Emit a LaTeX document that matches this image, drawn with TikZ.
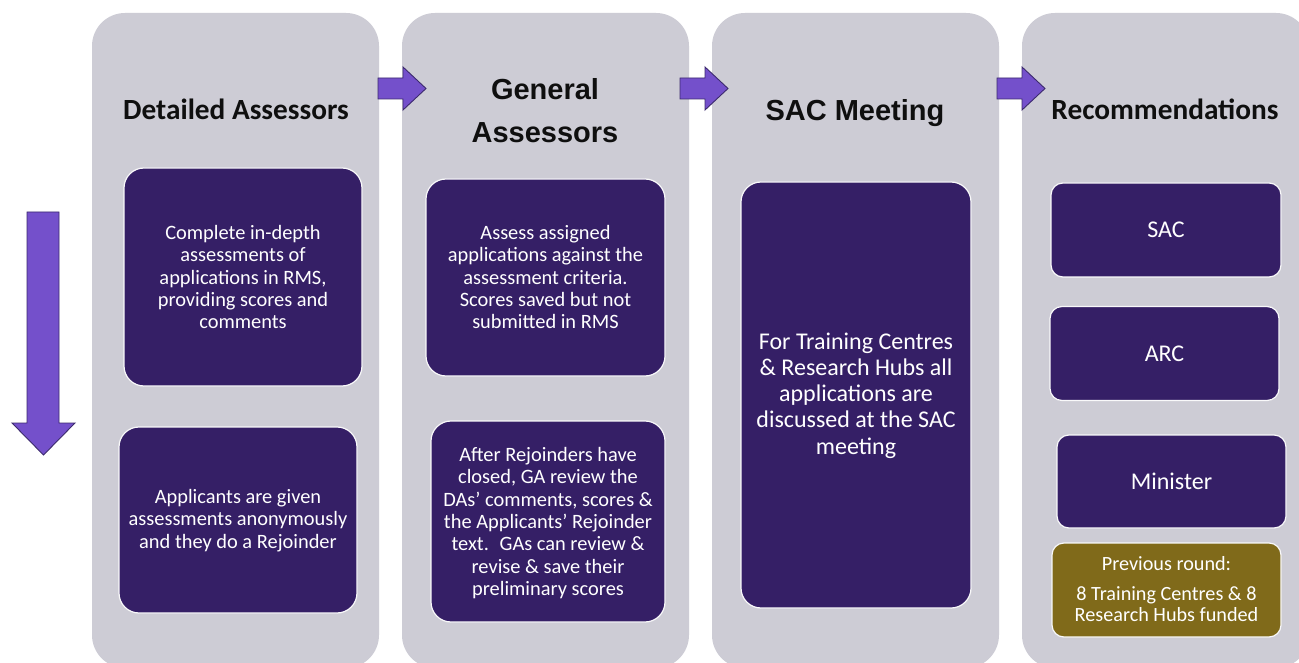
\documentclass[tikz,border=0pt]{standalone}
\usepackage{fontspec}
\setmainfont{Carlito}
\newfontfamily\arialf{Liberation Sans}
\definecolor{colgray}{RGB}{205,204,213}
\definecolor{darkpurple}{RGB}{53,31,102}
\definecolor{arrowpurple}{RGB}{116,80,203}
\definecolor{arrowdark}{RGB}{60,42,110}
\definecolor{olive}{RGB}{128,106,26}
\definecolor{titleblack}{RGB}{15,15,15}
\begin{document}
\begin{tikzpicture}[x=1pt,y=-1pt,
  column/.style={rectangle, fill=colgray, draw=none, rounded corners=33pt, inner sep=0pt},
  inbox/.style={rectangle, fill=darkpurple, draw=white!88!colgray, line width=1.2pt, rounded corners=20pt, inner sep=0pt},
  smallbox/.style={inbox, rounded corners=12pt},
  olivebox/.style={smallbox, fill=olive},
  bodytext/.style={text=white, align=center, inner sep=0pt, font=\fontsize{20.4}{22.3}\selectfont},
  bigtext/.style={text=white, align=center, inner sep=0pt, font=\fontsize{24}{26.3}\selectfont},
  coltitle/.style={text=titleblack, align=center, inner sep=0pt, font=\bfseries\fontsize{29.3}{34}\selectfont},
  arialtitle/.style={text=titleblack, align=center, inner sep=0pt, font=\arialf\bfseries\fontsize{29}{43}\selectfont},
  blockarrow/.style={fill=arrowpurple, draw=arrowdark, line width=0.9pt, line join=miter}
]
\useasboundingbox (0,0) rectangle (1299,663);
\fill[white] (0,0) rectangle (1299,663);

% columns
\node[column, minimum width=287pt, minimum height=655pt] (c1) at (235.5,340.5) {};
\node[column, minimum width=287pt, minimum height=655pt] (c2) at (545.5,340.5) {};
\node[column, minimum width=287pt, minimum height=655pt] (c3) at (855.5,340.5) {};
\node[column, minimum width=287pt, minimum height=655pt] (c4) at (1165.5,340.5) {};

% block arrows between columns
\draw[blockarrow] (378,78) -- (403,78) -- (403,67) -- (426,88.5) -- (403,110) -- (403,99) -- (378,99) -- cycle;
\draw[blockarrow] (680,78) -- (705,78) -- (705,67) -- (728,88.5) -- (705,110) -- (705,99) -- (680,99) -- cycle;
\draw[blockarrow] (997,78) -- (1022,78) -- (1022,67) -- (1045,88.5) -- (1022,110) -- (1022,99) -- (997,99) -- cycle;
% down arrow
\draw[blockarrow] (27,212) -- (59,212) -- (59,423) -- (75,423) -- (43.5,455) -- (12,423) -- (27,423) -- cycle;

% titles
\node[coltitle, anchor=base] (t1) at (236,119.5) {Detailed Assessors};
\node[arialtitle] (t2) at (545,110.5) {General\\Assessors};
\node[arialtitle, anchor=base] (t3) at (855,121) {SAC Meeting};
\node[coltitle, anchor=base] (t4) at (1165,119.5) {Recommendations};

% column 1
\node[inbox, minimum width=238pt, minimum height=218pt] (b11) at (243,277) {};
\node[bodytext] (x11) at (243,277) {Complete in-depth\\assessments of\\applications in RMS,\\providing scores and\\comments};
\node[inbox, minimum width=238pt, minimum height=186pt] (b12) at (238,520) {};
\node[bodytext] (x12) at (238,520.5) {Applicants are given\\assessments anonymously\\and they do a Rejoinder};

% column 2
\node[inbox, minimum width=239pt, minimum height=197pt] (b21) at (545.5,277.5) {};
\node[bodytext] (x21) at (545.5,277) {Assess assigned\\applications against the\\assessment criteria.\\Scores saved but not\\submitted in RMS};
\node[inbox, minimum width=234pt, minimum height=201pt] (b22) at (548,521.5) {};
\node[bodytext] (x22) at (548,523) {After Rejoinders have\\closed, GA review the\\DAs’ comments, scores \&\\the Applicants’ Rejoinder\\text.~ GAs can review \&\\revise \& save their\\preliminary scores};

% column 3
\node[inbox, minimum width=230pt, minimum height=426pt] (b3) at (856,395) {};
\node[bigtext] (x3) at (856,395.5) {For Training Centres\\\& Research Hubs all\\applications are\\discussed at the SAC\\meeting};

% column 4
\node[smallbox, minimum width=230pt, minimum height=94pt] (b41) at (1166,230) {};
\node[bigtext] (x41) at (b41.center) {SAC};
\node[smallbox, minimum width=229pt, minimum height=94pt] (b42) at (1164.5,353.5) {};
\node[bigtext] (x42) at (b42.center) {ARC};
\node[smallbox, minimum width=229pt, minimum height=93pt] (b43) at (1171.5,481.5) {};
\node[bigtext] (x43) at (b43.center) {Minister};
\node[olivebox, minimum width=229pt, minimum height=94pt] (b44) at (1166.5,590) {};
\node[bodytext, font=\fontsize{20.2}{21}\selectfont] (x44) at (1166.5,589.5) {Previous round:\\[9pt]8 Training Centres \& 8\\Research Hubs funded};
\end{tikzpicture}
\end{document}
